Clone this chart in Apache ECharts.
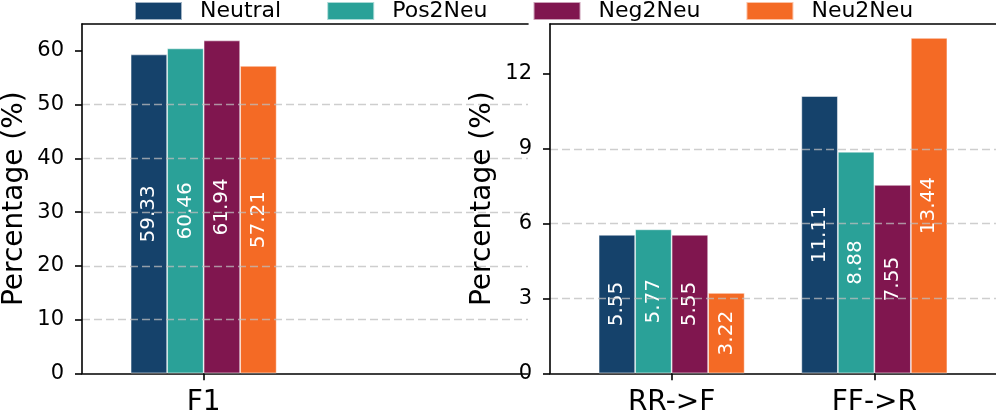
<!DOCTYPE html>
<html>
<head>
<meta charset="utf-8">
<script src="https://cdn.jsdelivr.net/npm/echarts@6/dist/echarts.min.js"></script>
<style>
html,body{margin:0;padding:0;background:#fff;}
#chart{width:996px;height:410px;}
</style>
</head>
<body>
<div id="chart"></div>
<script>
// ---- data ----
const seriesNames = ['Neutral', 'Pos2Neu', 'Neg2Neu', 'Neu2Neu'];
const seriesColors = ['#15426b', '#2aa198', '#80164f', '#f46a25'];
const leftCategories = ['F1'];
const leftValues = [
  [59.33],   // Neutral
  [60.46],   // Pos2Neu
  [61.94],   // Neg2Neu
  [57.21]    // Neu2Neu
];
const rightCategories = ['RR->F', 'FF->R'];
const rightValues = [
  [5.55, 11.11],  // Neutral
  [5.77, 8.88],   // Pos2Neu
  [5.55, 7.55],   // Neg2Neu
  [3.22, 13.44]   // Neu2Neu
];
const leftTicks = [0, 10, 20, 30, 40, 50, 60];
const rightTicks = [0, 3, 6, 9, 12];
const leftCatPos = [0];
const rightCatPos = [0, 1];

// ---- styling ----
const FONT = 'DejaVu Sans';
const axisLineStyle = {color: '#000', width: 1.6};
const gridLineStyle = {color: 'rgba(190,190,190,0.75)', type: [8, 4], width: 1.4};

function xAxes(gridIndex, cats, pos) {
  return [
    {
      type: 'value', gridIndex: gridIndex, min: -0.6, max: 1.6, position: 'bottom',
      axisLine: {show: true, onZero: false, lineStyle: axisLineStyle},
      axisTick: {show: true, length: 7, lineStyle: axisLineStyle, customValues: pos},
      axisLabel: {
        show: true, fontSize: 28, color: '#000', fontFamily: FONT, margin: 15,
        customValues: pos,
        formatter: function (v) { return cats[Math.round(v)]; }
      },
      splitLine: {show: false}
    },
    {
      type: 'value', gridIndex: gridIndex, min: -0.6, max: 1.6, position: 'top',
      axisLine: {show: true, onZero: false, lineStyle: axisLineStyle},
      axisTick: {show: false}, axisLabel: {show: false}, splitLine: {show: false}
    }
  ];
}

function yAxis(gridIndex, max, interval, ticks) {
  return {
    type: 'value', gridIndex: gridIndex, min: 0, max: max, interval: interval, z: 3,
    name: 'Percentage (%)', nameLocation: 'middle', nameGap: 53,
    nameTextStyle: {fontSize: 28, color: '#000', fontFamily: FONT},
    axisLine: {show: true, onZero: false, lineStyle: axisLineStyle},
    axisTick: {show: true, length: 7, lineStyle: axisLineStyle, customValues: ticks},
    axisLabel: {show: true, fontSize: 21, color: '#000', fontFamily: FONT, margin: 18, customValues: ticks},
    splitLine: {show: true, lineStyle: gridLineStyle, showMinLine: false, showMaxLine: false}
  };
}

const series = [];
seriesNames.forEach(function (name, i) {
  series.push({
    name: name, type: 'bar', xAxisIndex: 0, yAxisIndex: 0,
    barWidth: 36.5, barGap: '0%',
    itemStyle: {color: seriesColors[i], borderColor: 'rgba(255,255,255,0.6)', borderWidth: 0.8},
    label: {show: true, position: 'inside', rotate: 90, color: '#fff', fontSize: 20, fontFamily: FONT,
      formatter: function (p) { return p.value[1].toFixed(2); }},
    data: leftCatPos.map(function (x, k) { return [x, leftValues[i][k]]; })
  });
  series.push({
    name: name, type: 'bar', xAxisIndex: 2, yAxisIndex: 1,
    barWidth: 36.5, barGap: '0%',
    itemStyle: {color: seriesColors[i], borderColor: 'rgba(255,255,255,0.6)', borderWidth: 0.8},
    label: {show: true, position: 'inside', rotate: 90, color: '#fff', fontSize: 20, fontFamily: FONT,
      formatter: function (p) { return p.value[1].toFixed(2); }},
    data: rightCatPos.map(function (x, k) { return [x, rightValues[i][k]]; })
  });
});

const chart = echarts.init(document.getElementById('chart'), null, {renderer: 'canvas'});
chart.setOption({
  animation: false,
  backgroundColor: '#fff',
  textStyle: {fontFamily: FONT},
  color: seriesColors,
  legend: {
    data: seriesNames, left: 134, top: 0, padding: 0,
    icon: 'rect', itemWidth: 47, itemHeight: 18, itemGap: 45,
    textStyle: {fontSize: 22, color: '#000', fontFamily: FONT, padding: [0, 0, 0, 13]}
  },
  grid: [
    {left: 82, top: 24, width: 446, bottom: 36.7, containLabel: false, outerBoundsMode: 'none'},
    {left: 550, top: 24, width: 446, bottom: 36.7, containLabel: false, outerBoundsMode: 'none'}
  ],
  xAxis: xAxes(0, leftCategories, leftCatPos).concat(xAxes(1, rightCategories, rightCatPos)),
  yAxis: [yAxis(0, 65, 10, leftTicks), yAxis(1, 14, 3, rightTicks)],
  series: series
});
</script>
</body>
</html>
